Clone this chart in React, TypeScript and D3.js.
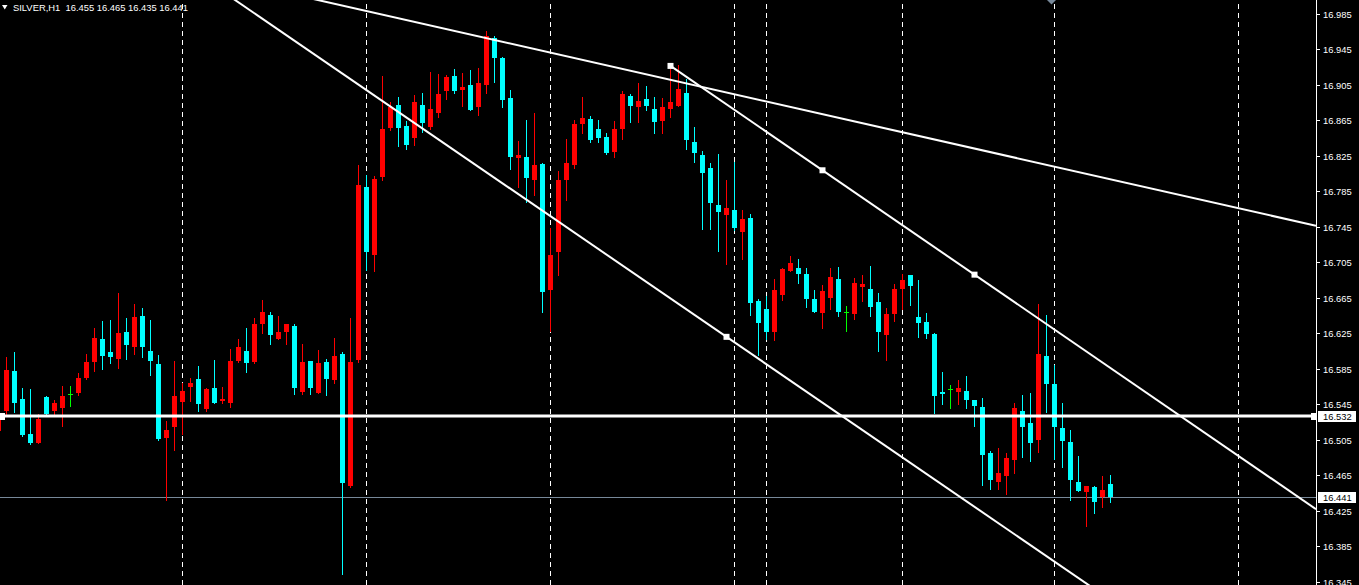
import React from "react";
import * as d3 from "d3";

// ---- Data (SILVER, H1) ----
// index -1 is the partially visible bar at the left edge
const openP = [16.515,
  16.537,16.583,16.551,16.512,16.501,16.553,16.537,16.541,16.557,16.558,
  16.575,16.593,16.619,16.604,16.596,16.626,16.610,16.644,16.605,16.590,
  16.507,16.520,16.548,16.564,16.574,16.540,16.563,16.549,16.546,16.594,
  16.605,16.593,16.636,16.646,16.619,16.627,16.633,16.559,16.594,16.558,
  16.593,16.572,16.602,16.453,16.595,16.790,16.713,16.801,16.856,16.882,
  16.858,16.845,16.882,16.857,16.873,16.898,16.915,16.899,16.905,16.880,
  16.905,16.957,16.935,16.890,16.822,16.824,16.797,16.816,16.674,16.717,
  16.798,16.814,16.861,16.866,16.855,16.846,16.829,16.855,16.892,16.880,
  16.889,16.877,16.864,16.878,16.881,16.896,16.840,16.826,16.811,16.769,
  16.758,16.764,16.739,16.755,16.661,16.652,16.626,16.668,16.695,16.698,
  16.692,16.664,16.648,16.665,16.686,16.649,16.647,16.677,16.675,16.660,
  16.623,16.647,16.675,16.691,16.643,16.638,16.624,16.559,16.562,16.559,
  16.560,16.550,16.542,16.490,16.458,16.464,16.482,16.538,16.524,16.505,
  16.599,16.568,16.518,16.503,16.458,16.446,16.452,16.441,16.455];
const highP = [16.540,
  16.598,16.604,16.563,16.562,16.534,16.554,16.550,16.566,16.566,16.580,
  16.602,16.631,16.639,16.640,16.670,16.642,16.658,16.653,16.640,16.601,
  16.526,16.594,16.569,16.575,16.588,16.563,16.595,16.564,16.607,16.619,
  16.631,16.642,16.662,16.649,16.644,16.635,16.635,16.613,16.594,16.606,
  16.596,16.620,16.604,16.642,16.814,16.803,16.802,16.915,16.885,16.891,
  16.864,16.893,16.895,16.919,16.917,16.916,16.923,16.918,16.921,16.924,
  16.965,16.960,16.936,16.899,16.841,16.865,16.873,16.817,16.743,16.808,
  16.844,16.865,16.891,16.870,16.865,16.850,16.864,16.898,16.894,16.907,
  16.903,16.891,16.890,16.923,16.927,16.911,16.857,16.830,16.817,16.827,
  16.798,16.818,16.764,16.759,16.664,16.667,16.686,16.699,16.712,16.709,
  16.698,16.674,16.679,16.698,16.700,16.656,16.687,16.691,16.701,16.670,
  16.654,16.680,16.692,16.691,16.685,16.648,16.625,16.581,16.567,16.572,
  16.577,16.550,16.552,16.492,16.496,16.490,16.547,16.556,16.558,16.658,
  16.646,16.589,16.547,16.516,16.487,16.453,16.453,16.464,16.465];
const lowP = [16.505,
  16.532,16.536,16.509,16.500,16.501,16.533,16.532,16.521,16.543,16.555,
  16.574,16.583,16.585,16.592,16.586,16.596,16.602,16.598,16.578,16.505,
  16.437,16.494,16.512,16.549,16.537,16.538,16.546,16.546,16.542,16.593,
  16.581,16.591,16.625,16.613,16.619,16.613,16.557,16.557,16.557,16.558,
  16.555,16.569,16.354,16.452,16.593,16.696,16.695,16.798,16.854,16.836,
  16.833,16.837,16.852,16.855,16.868,16.889,16.896,16.881,16.876,16.871,
  16.896,16.908,16.880,16.810,16.790,16.773,16.781,16.649,16.628,16.691,
  16.775,16.811,16.850,16.840,16.840,16.827,16.824,16.844,16.863,16.863,
  16.876,16.850,16.850,16.868,16.881,16.833,16.818,16.742,16.742,16.718,
  16.703,16.741,16.709,16.646,16.601,16.619,16.617,16.662,16.695,16.682,
  16.655,16.649,16.631,16.652,16.644,16.628,16.641,16.661,16.645,16.605,
  16.595,16.639,16.652,16.657,16.621,16.620,16.535,16.545,16.541,16.545,
  16.541,16.521,16.454,16.450,16.450,16.444,16.468,16.486,16.481,16.491,
  16.536,16.483,16.474,16.437,16.447,16.408,16.423,16.429,16.435];
const closeP = [16.532,
  16.584,16.547,16.510,16.501,16.528,16.534,16.547,16.554,16.557,16.575,
  16.593,16.620,16.599,16.598,16.625,16.612,16.643,16.609,16.594,16.506,
  16.516,16.554,16.560,16.569,16.545,16.562,16.546,16.551,16.594,16.610,
  16.591,16.635,16.649,16.623,16.626,16.635,16.563,16.593,16.563,16.592,
  16.574,16.599,16.457,16.593,16.792,16.716,16.799,16.855,16.880,16.856,
  16.837,16.885,16.862,16.877,16.894,16.914,16.898,16.902,16.876,16.907,
  16.960,16.935,16.888,16.823,16.826,16.800,16.815,16.671,16.713,16.798,
  16.817,16.861,16.867,16.843,16.845,16.828,16.855,16.894,16.881,16.886,
  16.881,16.863,16.880,16.885,16.900,16.843,16.828,16.806,16.772,16.761,
  16.766,16.744,16.754,16.659,16.637,16.627,16.674,16.697,16.704,16.692,
  16.664,16.649,16.673,16.688,16.649,16.649,16.682,16.680,16.655,16.627,
  16.647,16.675,16.685,16.678,16.637,16.624,16.554,16.557,16.562,16.563,
  16.550,16.543,16.488,16.460,16.468,16.485,16.541,16.519,16.501,16.602,
  16.568,16.519,16.504,16.460,16.447,16.453,16.435,16.449,16.441];
const FIRST_INDEX = -1;

const priceTicks = [16.985,16.945,16.905,16.865,16.825,16.785,16.745,16.705,16.665,16.625,16.585,16.545,16.505,16.465,16.425,16.385,16.345];
const separatorBars = [22, 45, 68, 91, 95, 112, 131, 154];
const hLevel = 16.532;
const bidPrice = 16.441;
const header = ["SILVER,H1", "16.455", "16.465", "16.435", "16.441"];

// Trend lines: [barIndex, price]
const lineA = [[39, 17.0], [163.7, 16.746]];
const lineB = [[28.6, 17.0], [90, 16.621]];
const lineC = [[83, 16.926], [121, 16.691]];
const anchors = [[83, 16.926], [102, 16.8085], [121, 16.691], [90, 16.621]];

const W = 1359, H = 585, PLOT_R = 1316;
const BULL = "#ff0000", BEAR = "#00ffff", DOJI = "#00ff00";
const FONT = "'Liberation Sans', Arial, sans-serif";

export default function App() {
  const x = d3.scaleLinear().domain([0, 1]).range([6.5, 14.5]);
  const y = d3.scaleLinear().domain([16.985, 16.345]).range([13.5, 582]);

  const bars = openP.map((o, k) => ({ i: k + FIRST_INDEX, o, h: highP[k], l: lowP[k], c: closeP[k] }));

  const extLine = (pts: number[][], fromStart: boolean) => {
    const [x1, y1] = [x(pts[0][0]), y(pts[0][1])];
    const [x2, y2] = [x(pts[1][0]), y(pts[1][1])];
    const s = (y2 - y1) / (x2 - x1);
    const xa = fromStart ? x1 : 0;
    const xb = PLOT_R;
    return { x1: xa, y1: y1 + (xa - x1) * s, x2: xb, y2: y1 + (xb - x1) * s };
  };
  const LA = extLine(lineA, false);
  const LB = extLine(lineB, false);
  const LC = extLine(lineC, true);
  const yH = Math.round(y(hLevel));
  const yBid = Math.round(y(bidPrice)) + 0.5;

  return (
    <svg width={W} height={H} style={{ position: "fixed", left: 0, top: 0, background: "#000", display: "block" }}
      fontFamily={FONT}>
      <defs>
        <clipPath id="plot"><rect x={0} y={0} width={PLOT_R} height={H} /></clipPath>
      </defs>
      <rect x={0} y={0} width={W} height={H} fill="#000" />
      <g clipPath="url(#plot)">
        {separatorBars.map((b) => (
          <line key={b} x1={Math.floor(x(b)) + 0.5} x2={Math.floor(x(b)) + 0.5} y1={-5} y2={H}
            stroke="#fff" strokeWidth={1} strokeDasharray="5,4" />
        ))}
        <line x1={0} x2={PLOT_R} y1={yBid} y2={yBid} stroke="#778899" strokeWidth={1} />
        {bars.map((b) => {
          const left = Math.round(x(b.i) - 2.5);
          const col = b.c > b.o ? BULL : b.c < b.o ? BEAR : DOJI;
          const yh = Math.round(y(b.h));
          const yl = Math.round(y(b.l));
          const yt = Math.round(y(Math.max(b.o, b.c)));
          const yb = Math.round(y(Math.min(b.o, b.c)));
          return (
            <g key={b.i}>
              <rect x={left + 2} y={yh} width={1} height={Math.max(1, yl - yh + 1)} fill={col} />
              {col === DOJI ? (
                <rect x={left} y={yt} width={5} height={1} fill={col} />
              ) : (
                <rect x={left} y={yt} width={5} height={Math.max(1, yb - yt)} fill={col} />
              )}
            </g>
          );
        })}
        {[LA, LB, LC].map((L, k) => (
          <line key={k} x1={L.x1} y1={L.y1} x2={L.x2} y2={L.y2} stroke="#fff" strokeWidth={2} />
        ))}
        {anchors.map(([i, p], k) => (
          <rect key={k} x={x(i) - 3} y={y(p) - 3} width={6} height={6} fill="#fff" />
        ))}
        <rect x={0} y={yH - 1.5} width={PLOT_R} height={3} fill="#fff" />
        <rect x={0} y={yH - 3} width={5} height={7} fill="#fff" />
        <rect x={PLOT_R - 5} y={yH - 3} width={5} height={7} fill="#fff" />
        <polygon points="1047,0 1056,0 1051.5,4.5" fill="#778899" />
      </g>
      {/* header */}
      <polygon points="2,5 7.5,5 4.75,9.5" fill="#fff" />
      <text x={13} y={11} fill="#fff" fontSize={9.4} style={{ whiteSpace: "pre" }}>
        {header[0] + "  " + header.slice(1).join(" ")}
      </text>
      {/* price axis */}
      <line x1={PLOT_R + 0.5} x2={PLOT_R + 0.5} y1={0} y2={H} stroke="#fff" strokeWidth={1} />
      {priceTicks.map((t) => {
        const ty = Math.round(y(t)) + 0.5;
        return (
          <g key={t}>
            <line x1={PLOT_R + 1} x2={PLOT_R + 4} y1={ty} y2={ty} stroke="#fff" />
            <text x={1323} y={ty + 3.3} fill="#fff" fontSize={9.4}>{t.toFixed(3)}</text>
          </g>
        );
      })}
      {[hLevel, bidPrice].map((p) => {
        const py = Math.round(y(p));
        return (
          <g key={p}>
            <rect x={1318} y={py - 5} width={38} height={11} fill="#fff" />
            <text x={1323} y={py + 3.5} fill="#000" fontSize={9.4}>{p.toFixed(3)}</text>
          </g>
        );
      })}
    </svg>
  );
}
